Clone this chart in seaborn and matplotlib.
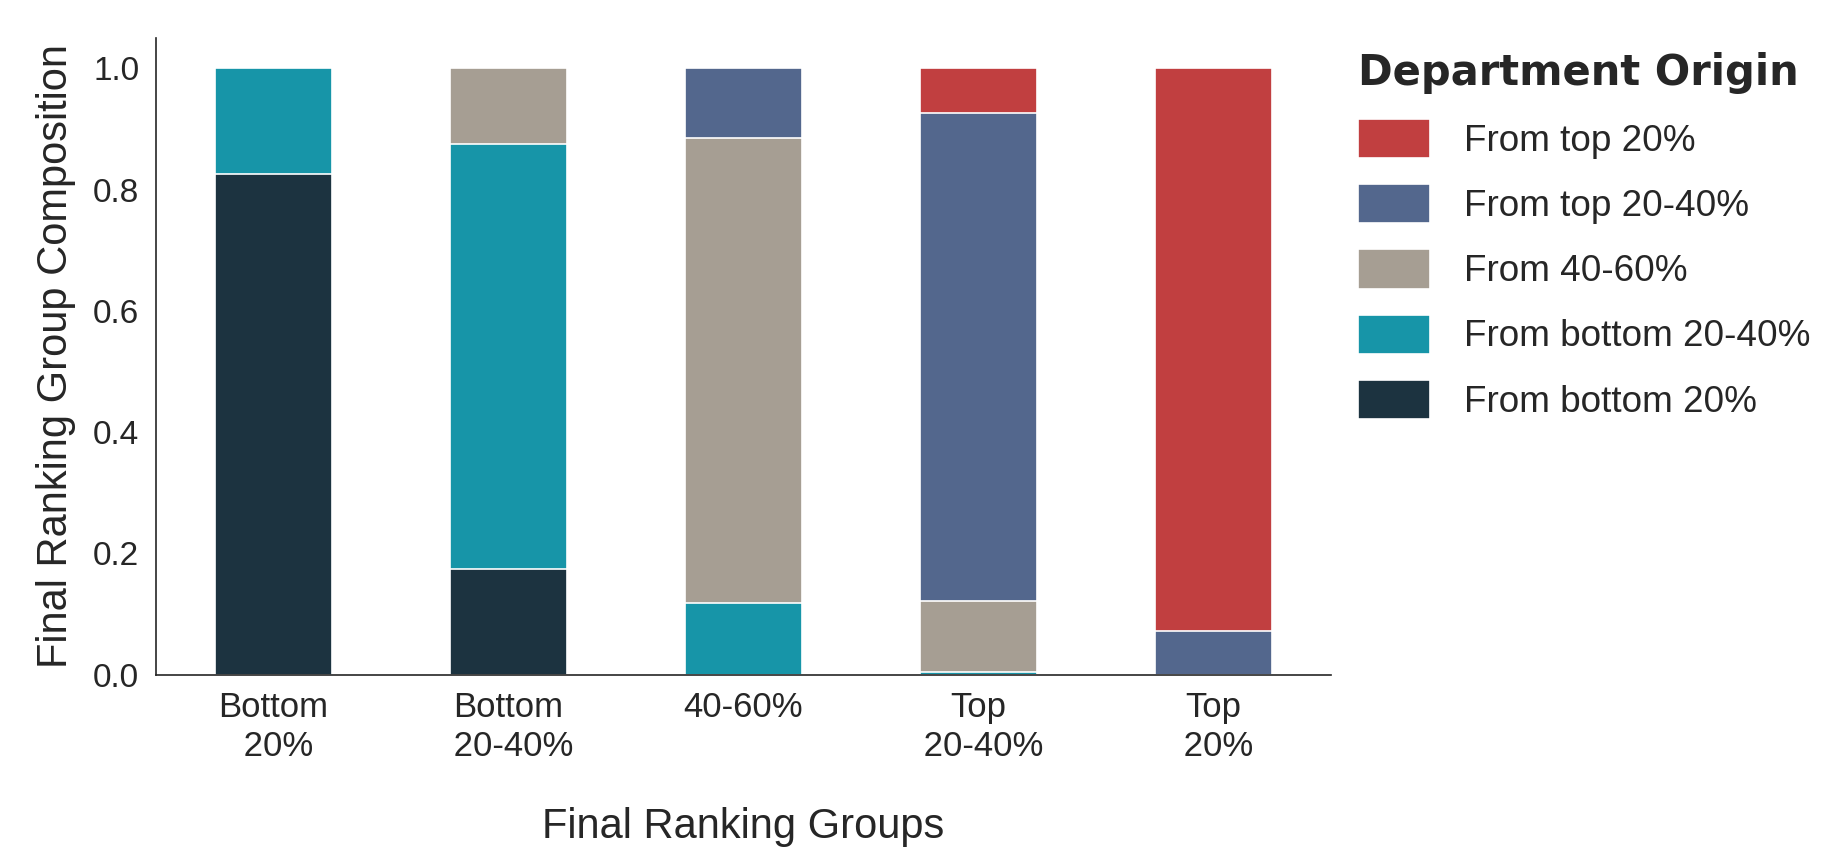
import numpy as np
import pandas as pd
import matplotlib
matplotlib.use("Agg")
import matplotlib.pyplot as plt
import seaborn as sns

# data
groups = ["Bottom\n 20%", "Bottom\n 20-40%", "40-60%", "Top\n 20-40%", "Top\n 20%"]
from_bottom_20 = [0.825, 0.175, 0.0, 0.0, 0.0]
from_bottom_20_40 = [0.175, 0.700, 0.119, 0.004, 0.0]
from_40_60 = [0.0, 0.125, 0.766, 0.118, 0.0]
from_top_20_40 = [0.0, 0.0, 0.115, 0.804, 0.072]
from_top_20 = [0.0, 0.0, 0.0, 0.074, 0.928]

origin_labels = ["From top 20%", "From top 20-40%", "From 40-60%",
                 "From bottom 20-40%", "From bottom 20%"]
colors = ["#c13f40", "#53678d", "#a69e93", "#1795a8", "#1c3340"]

df = pd.DataFrame({
    "group": groups,
    "From bottom 20%": from_bottom_20,
    "From bottom 20-40%": from_bottom_20_40,
    "From 40-60%": from_40_60,
    "From top 20-40%": from_top_20_40,
    "From top 20%": from_top_20,
})

# cumulative heights, stacked from the bottom
stack_order = origin_labels[::-1]
cum = df[stack_order].cumsum(axis=1)

sns.set_style("white")
plt.rcParams["font.family"] = ["Liberation Sans", "DejaVu Sans"]
text_color = "#262626"

fig, ax = plt.subplots(figsize=(9.21, 4.32), dpi=200)
fig.subplots_adjust(left=0.0846, right=0.7225, bottom=0.219, top=0.956)

# draw tallest first so smaller cumulative bars sit on top
for label, color in zip(origin_labels, colors):
    sns.barplot(x=df["group"], y=cum[label], color=color, width=0.5, saturation=1,
                edgecolor="white", linewidth=0.6, label=label, ax=ax)

ax.set_xlim(-0.5, 4.5)
ax.set_ylim(0, 1.05)
ax.set_yticks([0.0, 0.2, 0.4, 0.6, 0.8, 1.0])
ax.set_yticklabels(["0.0", "0.2", "0.4", "0.6", "0.8", "1.0"])
ax.tick_params(axis="y", labelsize=12, pad=6, length=0, colors=text_color)
ax.tick_params(axis="x", labelsize=12.5, pad=6, length=0, colors=text_color)

ax.set_xlabel("Final Ranking Groups", fontsize=15, labelpad=16, color=text_color)
ax.set_ylabel("Final Ranking Group Composition", fontsize=15, labelpad=6, color=text_color)

sns.despine(ax=ax)
for side in ["left", "bottom"]:
    ax.spines[side].set_color(text_color)
    ax.spines[side].set_linewidth(0.6)

leg = ax.legend(loc="upper left", bbox_to_anchor=(0.995, 1.03), frameon=False,
                fontsize=13.3, handlelength=1.95, handleheight=1.25,
                handletextpad=0.9, labelspacing=0.68,
                title="Department Origin",
                title_fontproperties={"family": "DejaVu Sans", "weight": "bold", "size": 15})
leg._legend_box.align = "left"
for t in leg.get_texts():
    t.set_color(text_color)
leg.get_title().set_color(text_color)

fig.savefig("out.png", dpi=200)
